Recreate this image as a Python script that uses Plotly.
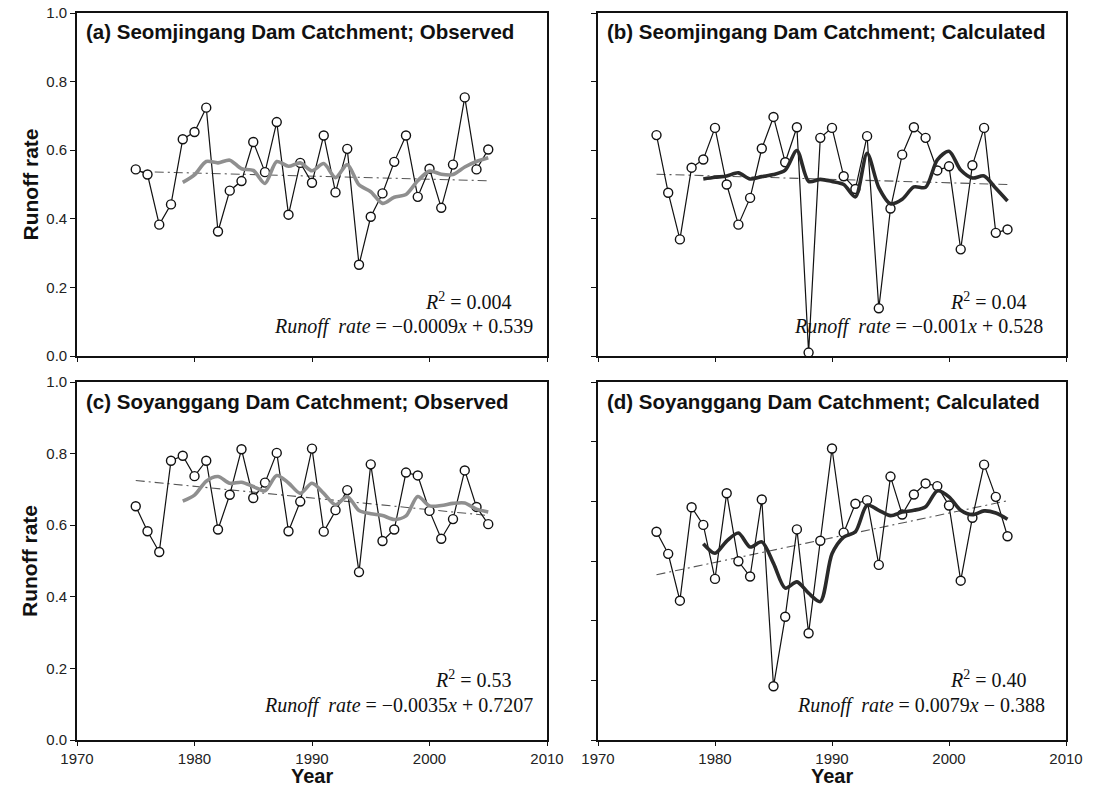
import plotly.graph_objects as go

years = list(range(1975, 2006))
ma_years = list(range(1979, 2006))
trend_years = [1975, 2005]

# (a) Seomjingang observed
obs_a = [0.544, 0.529, 0.383, 0.442, 0.632, 0.653, 0.724, 0.363, 0.482, 0.510,
         0.624, 0.536, 0.682, 0.412, 0.563, 0.505, 0.643, 0.477, 0.604, 0.266,
         0.406, 0.474, 0.566, 0.643, 0.464, 0.546, 0.432, 0.558, 0.754, 0.544, 0.602]
ma_a = [0.506, 0.528, 0.567, 0.563, 0.571, 0.546, 0.541, 0.503, 0.567, 0.553,
        0.563, 0.540, 0.561, 0.520, 0.558, 0.499, 0.479, 0.445, 0.463, 0.471,
        0.511, 0.539, 0.530, 0.529, 0.551, 0.567, 0.578]
trend_a = [0.538, 0.511]

# (b) Seomjingang calculated
calc_b = [0.644, 0.476, 0.340, 0.549, 0.573, 0.665, 0.500, 0.383, 0.461, 0.605,
          0.697, 0.565, 0.667, 0.010, 0.636, 0.665, 0.524, 0.487, 0.641, 0.139,
          0.430, 0.587, 0.667, 0.636, 0.541, 0.553, 0.311, 0.556, 0.665, 0.359, 0.369]
ma_b = [0.516, 0.521, 0.525, 0.534, 0.516, 0.523, 0.529, 0.542, 0.599, 0.509,
        0.515, 0.509, 0.500, 0.464, 0.591, 0.491, 0.444, 0.457, 0.493, 0.492,
        0.572, 0.597, 0.542, 0.519, 0.525, 0.489, 0.452]
trend_b = [0.530, 0.500]

# (c) Soyanggang observed
obs_c = [0.653, 0.583, 0.525, 0.780, 0.794, 0.737, 0.780, 0.588, 0.685, 0.812,
         0.676, 0.719, 0.802, 0.583, 0.666, 0.814, 0.582, 0.642, 0.698, 0.469,
         0.770, 0.556, 0.588, 0.747, 0.739, 0.640, 0.562, 0.617, 0.753, 0.651, 0.603]
ma_c = [0.667, 0.684, 0.723, 0.736, 0.717, 0.720, 0.708, 0.696, 0.739, 0.718,
        0.689, 0.717, 0.689, 0.657, 0.680, 0.641, 0.632, 0.627, 0.616, 0.626,
        0.680, 0.654, 0.655, 0.661, 0.662, 0.645, 0.637]
trend_c = [0.725, 0.627]

# (d) Soyanggang calculated
calc_d = [0.698, 0.624, 0.467, 0.780, 0.721, 0.540, 0.827, 0.599, 0.548, 0.806,
          0.180, 0.413, 0.706, 0.358, 0.668, 0.977, 0.695, 0.792, 0.804, 0.587,
          0.883, 0.756, 0.823, 0.860, 0.851, 0.786, 0.534, 0.745, 0.923, 0.815, 0.683]
ma_d = [0.658, 0.626, 0.667, 0.694, 0.647, 0.664, 0.592, 0.509, 0.530, 0.492,
        0.464, 0.624, 0.680, 0.698, 0.787, 0.770, 0.752, 0.764, 0.770, 0.782,
        0.835, 0.815, 0.770, 0.755, 0.768, 0.761, 0.740]
trend_d = [0.554, 0.802]

x_ticks = [1970, 1980, 1990, 2000, 2010]
y_ticks_left = [0.0, 0.2, 0.4, 0.6, 0.8, 1.0]
y_tick_text = ["0.0", "0.2", "0.4", "0.6", "0.8", "1.0"]
y_ticks_b = [0.0, 0.2, 0.4, 0.6, 0.8, 1.0]
y_ticks_d = [0.0, 0.2, 0.4, 0.6, 0.8, 1.0, 1.2]

titles = ["(a) Seomjingang Dam Catchment; Observed",
          "(b) Seomjingang Dam Catchment; Calculated",
          "(c) Soyanggang Dam Catchment; Observed",
          "(d) Soyanggang Dam Catchment; Calculated"]
r2_text = ["<i>R</i><sup>2</sup> = 0.004", "<i>R</i><sup>2</sup> = 0.04",
           "<i>R</i><sup>2</sup> = 0.53", "<i>R</i><sup>2</sup> = 0.40"]
eq_text = ["<i>Runoff  rate</i> = −0.0009<i>x</i> + 0.539",
           "<i>Runoff  rate</i> = −0.001<i>x</i> + 0.528",
           "<i>Runoff  rate</i> = −0.0035<i>x</i> + 0.7207",
           "<i>Runoff  rate</i> = 0.0079<i>x</i> − 0.388"]

W, H = 1098, 787
def px_x(p):
    return p / W
def px_y(p):
    return 1 - p / H

dom_x = [[px_x(77), px_x(547)], [px_x(598), px_x(1066)]]
dom_y = [[px_y(356), px_y(13)], [px_y(740), px_y(382)]]

panels = [
    dict(obs=obs_a, ma=ma_a, tr=trend_a, ma_col="#8f8f8f", col=0, row=0, yr=[0, 1.0], yt=y_ticks_left),
    dict(obs=calc_b, ma=ma_b, tr=trend_b, ma_col="#2a2a2a", col=1, row=0, yr=[0, 1.0], yt=y_ticks_b),
    dict(obs=obs_c, ma=ma_c, tr=trend_c, ma_col="#8f8f8f", col=0, row=1, yr=[0, 1.0], yt=y_ticks_left),
    dict(obs=calc_d, ma=ma_d, tr=trend_d, ma_col="#2a2a2a", col=1, row=1, yr=[0, 1.2], yt=y_ticks_d),
]

fig = go.Figure()
layout = dict(width=W, height=H, margin=dict(l=0, r=0, t=0, b=0, autoexpand=False),
              paper_bgcolor="white", plot_bgcolor="white", showlegend=False,
              font=dict(family="Liberation Sans, Arial, sans-serif", color="#111"))
annotations = []

for i, p in enumerate(panels):
    n = i + 1
    xa = "x" if n == 1 else f"x{n}"
    ya = "y" if n == 1 else f"y{n}"
    fig.add_trace(go.Scatter(x=trend_years, y=p["tr"], mode="lines", xaxis=xa, yaxis=ya,
                             line=dict(color="#555555", width=1.1, dash="9px,4px,2px,4px")))
    fig.add_trace(go.Scatter(x=years, y=p["obs"], mode="lines+markers", xaxis=xa, yaxis=ya,
                             line=dict(color="#111111", width=1.2),
                             marker=dict(symbol="circle", size=9, color="white",
                                         line=dict(color="#111111", width=1.4))))
    fig.add_trace(go.Scatter(x=ma_years, y=p["ma"], mode="lines", xaxis=xa, yaxis=ya,
                             line=dict(color=p["ma_col"], width=3.6, shape="spline", smoothing=0.8)))

    left = p["col"] == 0
    bottom = p["row"] == 1
    xkey = "xaxis" if n == 1 else f"xaxis{n}"
    ykey = "yaxis" if n == 1 else f"yaxis{n}"
    layout[xkey] = dict(domain=dom_x[p["col"]], range=[1970, 2010], anchor=ya,
                        tickvals=x_ticks, ticktext=[str(v) for v in x_ticks],
                        showticklabels=bottom, ticks="outside", ticklen=4, tickwidth=1.2,
                        tickcolor="#111", showline=True, linecolor="#111", linewidth=1.6,
                        mirror=True, showgrid=False, zeroline=False, automargin=False,
                        tickfont=dict(size=15, color="#222"))
    ydict = dict(domain=dom_y[p["row"]], range=p["yr"], anchor=xa,
                 tickvals=p["yt"], showticklabels=left, ticks="outside", ticklen=5,
                 tickwidth=1.2, tickcolor="#111", showline=True, linecolor="#111",
                 linewidth=1.6, mirror=True, showgrid=False, zeroline=False, automargin=False,
                 tickfont=dict(size=15, color="#222"))
    if left:
        ydict["ticktext"] = y_tick_text
    layout[ykey] = ydict

    xd = f"{xa} domain"
    yd = f"{ya} domain"
    annotations.append(dict(xref=xd, yref=yd, x=0.015, y=0.945, xanchor="left", yanchor="middle",
                            text="<b>" + titles[i] + "</b>", showarrow=False,
                            font=dict(size=20.5, family="Liberation Sans, Arial, sans-serif", color="#111")))
    r2x = [0.93, 0.92, 0.93, 0.92][i]
    eqx = [0.975, 0.955, 0.975, 0.96][i]
    r2y = [0.16, 0.16, 0.17, 0.17][i]
    eqy = [0.085, 0.085, 0.095, 0.095][i]
    annotations.append(dict(xref=xd, yref=yd, x=r2x, y=r2y, xanchor="right", yanchor="middle",
                            text=r2_text[i], showarrow=False,
                            font=dict(size=20, family="Liberation Serif, Times New Roman, serif", color="#111")))
    annotations.append(dict(xref=xd, yref=yd, x=eqx, y=eqy, xanchor="right", yanchor="middle",
                            text=eq_text[i], showarrow=False,
                            font=dict(size=20, family="Liberation Serif, Times New Roman, serif", color="#111")))

for row in range(2):
    annotations.append(dict(xref="paper", yref="paper", x=px_x(30), y=(dom_y[row][0] + dom_y[row][1]) / 2,
                            xanchor="center", yanchor="middle", textangle=-90,
                            text="<b>Runoff rate</b>", showarrow=False,
                            font=dict(size=21, color="#111")))
for col in range(2):
    annotations.append(dict(xref="paper", yref="paper", x=(dom_x[col][0] + dom_x[col][1]) / 2, y=px_y(776),
                            xanchor="center", yanchor="middle",
                            text="<b>Year</b>", showarrow=False,
                            font=dict(size=20, color="#111")))

layout["annotations"] = annotations
fig.update_layout(**layout)
fig.write_html("out.html", post_script="document.body.style.margin='0';document.body.style.overflow='hidden';")
